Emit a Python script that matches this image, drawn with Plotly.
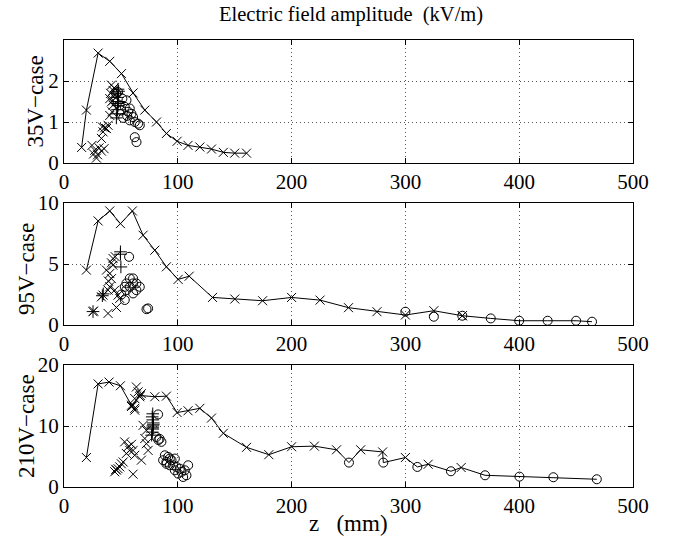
import plotly.graph_objects as go
from plotly.subplots import make_subplots

# ---------------- data ----------------
# Panel 1 : 35V-case
p1_line_z = [15.5, 19.7, 30, 40.2, 50.5, 60.7, 71, 81.3, 90, 99.4, 109, 119.4, 129.6, 140, 150, 160.4]
p1_line_E = [0.38, 1.29, 2.68, 2.48, 2.18, 1.71, 1.29, 1.0, 0.72, 0.53, 0.43, 0.39, 0.34, 0.26, 0.24, 0.24]
p1_x_z = [24.6, 27, 28.5, 30.8, 32.9, 35.2, 26, 29.5, 32.9, 34.3, 35.8, 37.3, 33.7, 38.7, 40.2, 41.7,
          43.1, 40.2, 41.7, 43.1, 44.6, 43.1, 42.2, 41, 44]
p1_x_E = [0.43, 0.31, 0.12, 0.37, 0.29, 0.35, 0.22, 0.2, 0.6, 0.76, 0.86, 0.84, 0.88, 0.92, 1.16, 1.9,
          1.77, 1.57, 1.49, 1.41, 1.65, 1.53, 1.25, 1.7, 1.83]
p1_p_z = [46, 46.5, 47, 47.5, 48, 47, 46.5, 48, 47.5, 47]
p1_p_E = [1.1, 1.2, 1.3, 1.4, 1.5, 1.6, 1.7, 1.75, 1.8, 1.45]
p1_o_z = [46, 47.5, 48.9, 50.4, 51.3, 53.4, 54.9, 56.3, 57.8, 57.8, 59.3, 60.7, 62.2, 65.1, 66.6, 62.2, 63.7, 52, 55.5]
p1_o_E = [1.69, 1.73, 1.41, 1.28, 1.57, 1.37, 1.53, 1.25, 1.33, 1.04, 1.2, 1.12, 1.0, 0.96, 0.92, 0.63, 0.51, 1.1, 1.15]

# Panel 2 : 95V-case
p2_line_z = [19.7, 30, 40.2, 49.6, 60.1, 69.5, 79.8, 90, 100.3, 110, 130.5, 150.1, 174.5, 200, 225, 250,
             275, 300, 325, 350, 375, 400, 425, 450, 464]
p2_line_E = [4.5, 8.53, 9.35, 8.31, 9.35, 7.36, 6.13, 4.77, 3.74, 4.0, 2.26, 2.13, 1.99, 2.26, 2.04, 1.42,
             1.09, 0.82, 1.17, 0.76, 0.54, 0.35, 0.35, 0.35, 0.27]
p2_line_kind = ["x"] * 20 + ["o"] * 5
p2_x_z = [25.5, 26, 38.7, 46.1, 37.3, 40.2, 41.7, 43.1, 41.7, 40.2, 38.7, 34.3, 32.9, 44.6, 47.5, 49, 45, 43, 39, 350]
p2_x_E = [1.09, 1.15, 0.95, 1.44, 4.5, 4.22, 3.8, 5.45, 5.1, 3.13, 2.86, 2.45, 2.31, 2.86, 2.45, 2.18, 5.6, 4.9, 3.6, 0.76]
p2_p_z = [49.6, 49.6, 50, 33.7, 34.5, 25.5]
p2_p_E = [6.0, 5.8, 4.76, 2.4, 2.55, 1.1]
p2_o_z = [57.2, 53.4, 50.4, 54.8, 57.8, 60.7, 63.6, 66.6, 63.6, 60.7, 53.4, 57.8, 60.7, 54.8, 72.5, 73.9, 300, 325, 350]
p2_o_E = [5.59, 2.05, 2.5, 3.41, 3.82, 3.41, 3.41, 3.13, 2.86, 2.59, 3.13, 3.13, 3.82, 2.86, 1.3, 1.36, 1.09, 0.68, 0.76]

# Panel 3 : 210V-case
p3_line_z = [19.7, 30, 39.6, 49.6, 59.3, 67, 79.8, 90, 99.4, 109, 119.4, 129.6, 140, 160.4, 180, 200, 220,
             239.5, 250.4, 260.7, 280, 280.6, 300, 310.5, 320, 340, 349, 370, 400.2, 430, 468.2]
p3_line_E = [4.83, 16.9, 17.2, 16.6, 13.4, 15.0, 14.8, 14.9, 12.2, 12.5, 12.9, 11.3, 8.8, 6.5, 5.3, 6.6, 6.7,
             6.1, 4.0, 6.1, 5.75, 4.0, 4.83, 3.29, 3.73, 2.58, 3.19, 1.92, 1.7, 1.6, 1.27]
p3_line_kind = ["x"] * 18 + ["o", "x", "x", "o", "x", "o", "x", "o", "x", "o", "o", "o", "o"]
p3_x_z = [60.7, 62.2, 63.6, 65.1, 68, 66.6, 62.2, 59.3, 62.2, 69.5, 72.4, 71, 72.4, 73.9, 68, 53.3, 56.3, 57.8,
          60.7, 54.8, 59.3, 62.2, 52, 49, 46.1, 44.6, 47.5, 60.7, 50.4, 45.5]
p3_x_E = [13.4, 12.9, 16.4, 15.6, 15.3, 14.8, 14.5, 13.2, 12.6, 10.1, 9.3, 7.95, 7.1, 6.0, 4.4, 7.4, 6.6, 6.0,
          6.0, 5.5, 7.0, 5.2, 4.1, 3.3, 2.76, 2.5, 3.0, 2.1, 3.8, 2.9]
p3_p_z = [77, 77.5, 78, 78, 78.5, 78, 77.5, 78, 78.5, 78]
p3_p_E = [8.5, 9.0, 9.5, 10.0, 10.5, 11.0, 11.5, 12.0, 10.2, 9.7]
p3_o_z = [82.7, 81.2, 83, 85.6, 84, 87.1, 88.6, 90, 91.5, 93, 94.5, 95.9, 97.4, 98.8, 100.3, 101.8, 103.2,
          104.7, 106.2, 107.6, 109.1, 97.4, 90, 93]
p3_o_E = [11.9, 8.2, 7.7, 7.4, 7.9, 4.39, 5.2, 4.11, 4.94, 3.56, 4.39, 3.56, 4.66, 3.29, 2.19, 3.01, 2.47,
          1.64, 2.74, 1.92, 3.56, 2.74, 3.8, 4.66]

panel_labels = ["35V\u2212case", "95V\u2212case", "210V\u2212case"]
y_ranges = [[0, 3], [0, 10], [0, 20]]
y_ticks = [[0, 1, 2], [0, 5, 10], [0, 10, 20]]
x_ticks = [0, 100, 200, 300, 400, 500]
title_text = "Electric field amplitude\u00a0\u00a0(kV/m)"
xlabel_text = "z\u00a0\u00a0\u00a0(mm)"

# ---------------- figure ----------------
FONT = "Liberation Serif, Times New Roman, serif"
SYM = {"x": "x-thin-open", "o": "circle-open", "+": "cross-thin-open"}

fig = make_subplots(rows=3, cols=1)
doms = [[0.7248, 1.0], [0.3624, 0.6353], [0.0, 0.2729]]

def mk(kind):
    return dict(symbol=SYM[kind], size=9, color="black", line=dict(color="black", width=1))

panels = [
    (p1_line_z, p1_line_E, ["x"] * len(p1_line_z), p1_x_z, p1_x_E, p1_p_z, p1_p_E, p1_o_z, p1_o_E),
    (p2_line_z, p2_line_E, p2_line_kind, p2_x_z, p2_x_E, p2_p_z, p2_p_E, p2_o_z, p2_o_E),
    (p3_line_z, p3_line_E, p3_line_kind, p3_x_z, p3_x_E, p3_p_z, p3_p_E, p3_o_z, p3_o_E),
]

for i, (lz, lE, lk, xz, xE, pz, pE, oz, oE) in enumerate(panels):
    r = i + 1
    fig.add_trace(go.Scatter(x=xz, y=xE, mode="markers", marker=mk("x"), showlegend=False), row=r, col=1)
    fig.add_trace(go.Scatter(x=pz, y=pE, mode="markers", marker=mk("+"), showlegend=False), row=r, col=1)
    fig.add_trace(go.Scatter(x=oz, y=oE, mode="markers", marker=mk("o"), showlegend=False), row=r, col=1)
    fig.add_trace(go.Scatter(x=lz, y=lE, mode="lines+markers",
                             line=dict(color="black", width=1),
                             marker=dict(symbol=[SYM[k] for k in lk], size=9, color="black",
                                         line=dict(color="black", width=1)),
                             showlegend=False), row=r, col=1)

axis_common = dict(showline=True, linecolor="black", linewidth=1, mirror="ticks",
                   ticks="inside", ticklen=5, tickcolor="black", tickwidth=1,
                   showgrid=True, gridcolor="#555", griddash="1px,3px", gridwidth=1,
                   zeroline=False, tickfont=dict(family=FONT, size=21, color="black"))

for i in range(3):
    xa = "xaxis" if i == 0 else f"xaxis{i+1}"
    ya = "yaxis" if i == 0 else f"yaxis{i+1}"
    fig.layout[xa].update(range=[0, 500], tickvals=x_ticks, **axis_common)
    fig.layout[ya].update(range=y_ranges[i], tickvals=y_ticks[i], domain=doms[i], **axis_common)

ann = [dict(text=title_text, x=0.504, y=1.056, xref="paper", yref="paper", showarrow=False,
            xanchor="center", yanchor="middle", font=dict(family=FONT, size=20.5, color="black")),
       dict(text=xlabel_text, x=0.5, y=0, yshift=-36, xref="paper", yref="paper", showarrow=False,
            xanchor="center", yanchor="middle", font=dict(family=FONT, size=23, color="black"))]
xshifts = [-28, -38, -38]
yshifts = [0, -5, 0]
for i in range(3):
    ann.append(dict(text=panel_labels[i], textangle=-90, x=0, xshift=xshifts[i],
                    y=(doms[i][0] + doms[i][1]) / 2, yshift=yshifts[i], xref="paper", yref="paper",
                    showarrow=False, xanchor="center", yanchor="middle",
                    font=dict(family=FONT, size=23, color="black")))

fig.update_layout(width=677, height=539, margin=dict(l=64, r=44, t=40, b=52),
                  plot_bgcolor="white", paper_bgcolor="white", annotations=ann)

fig.write_html("out.html")
